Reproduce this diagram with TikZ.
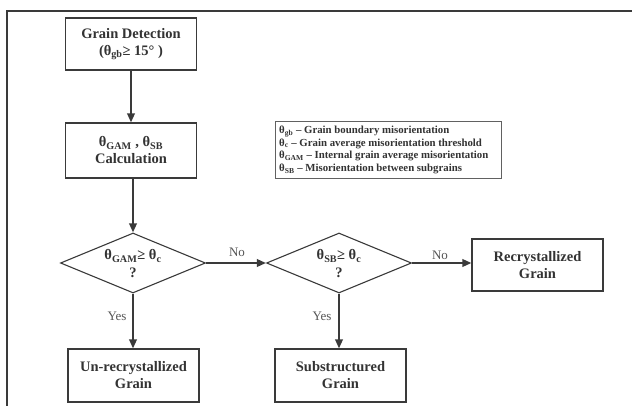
\documentclass[tikz,border=0pt]{standalone}
\usepackage{fontspec}
\setmainfont{Liberation Serif}
\usetikzlibrary{arrows.meta,shapes.geometric}
\definecolor{ink}{HTML}{3A3A3A}
\definecolor{txt}{HTML}{333333}
\definecolor{lbl}{HTML}{555555}
\tikzset{
  boxnode/.style={draw=ink, line width=1.1pt, fill=white, rectangle, inner sep=0pt,
    minimum width=131pt, align=center, text=txt,
    font=\fontsize{14.5}{17}\selectfont\bfseries},
  dianode/.style={draw=ink, line width=1.1pt, diamond, inner sep=0pt,
    minimum width=145pt, minimum height=60pt},
  diatext/.style={align=center, text=txt, inner sep=0pt,
    font=\fontsize{14.5}{18}\selectfont\bfseries},
  legendbox/.style={draw=ink!80, line width=0.8pt, rectangle, inner sep=0pt,
    minimum width=226pt, minimum height=57.5pt},
  legendtext/.style={align=left, text=txt, inner sep=0pt,
    font=\fontsize{10.8}{12.6}\selectfont\bfseries},
  flow/.style={draw=ink, line width=1.8pt, -{Triangle[length=9pt,width=7.5pt]}},
  answer/.style={text=lbl, inner sep=0pt, font=\fontsize{13}{14}\selectfont},
  frameline/.style={draw=ink, line width=1.3pt}
}
\begin{document}
\begin{tikzpicture}[x=1pt,y=-1pt]
\useasboundingbox (0,0) rectangle (632,406);
\fill[white] (0,0) rectangle (632,406);
\coordinate (fa) at (7,406);
\coordinate (fb) at (7,11);
\coordinate (fc) at (632,11);
\draw[frameline] (fa) -- (fb) -- (fc);

\node[boxnode, minimum height=52pt] (gd) at (131,44) {Grain Detection\\(θ\textsubscript{gb}≥ 15° )};
\node[boxnode, minimum height=55pt] (calc) at (131,150.5) {θ\textsubscript{GAM} , θ\textsubscript{SB}\\Calculation};
\node[dianode] (d1) at (133,263) {};
\node[diatext] (d1t) at (133,264) {θ\textsubscript{GAM}≥ θ\textsubscript{c}\\?};
\node[dianode] (d2) at (339,263) {};
\node[diatext] (d2t) at (339,264) {θ\textsubscript{SB}≥ θ\textsubscript{c}\\?};
\node[boxnode, minimum height=52pt] (rec) at (537.5,265) {Recrystallized\\Grain};
\node[boxnode, minimum height=53pt] (unrec) at (133.5,375.5) {Un-recrystallized\\Grain};
\node[boxnode, minimum height=53pt] (sub) at (340.5,375.5) {Substructured\\Grain};

\node[legendbox] (leg) at (388,150) {};
\node[legendtext, anchor=west] (legt) at (279,150) {θ\textsubscript{gb} – Grain boundary misorientation\\
θ\textsubscript{c} – Grain average misorientation threshold\\
θ\textsubscript{GAM} – Internal grain average misorientation\\
θ\textsubscript{SB} – Misorientation between subgrains};

\draw[flow] (gd.south) -- (calc.north);
\draw[flow] (calc.south -| d1.north) -- (d1.north);
\draw[flow] (d1.east) -- (d2.west);
\draw[flow] (d2.east) -- (rec.west |- d2.east);
\draw[flow] (d1.south) -- (unrec.north -| d1.south);
\draw[flow] (d2.south) -- (sub.north -| d2.south);

\node[answer] (no1) at (237,252) {No};
\node[answer] (no2) at (440,255) {No};
\node[answer] (yes1) at (117,316) {Yes};
\node[answer] (yes2) at (322,316) {Yes};
\end{tikzpicture}
\end{document}
